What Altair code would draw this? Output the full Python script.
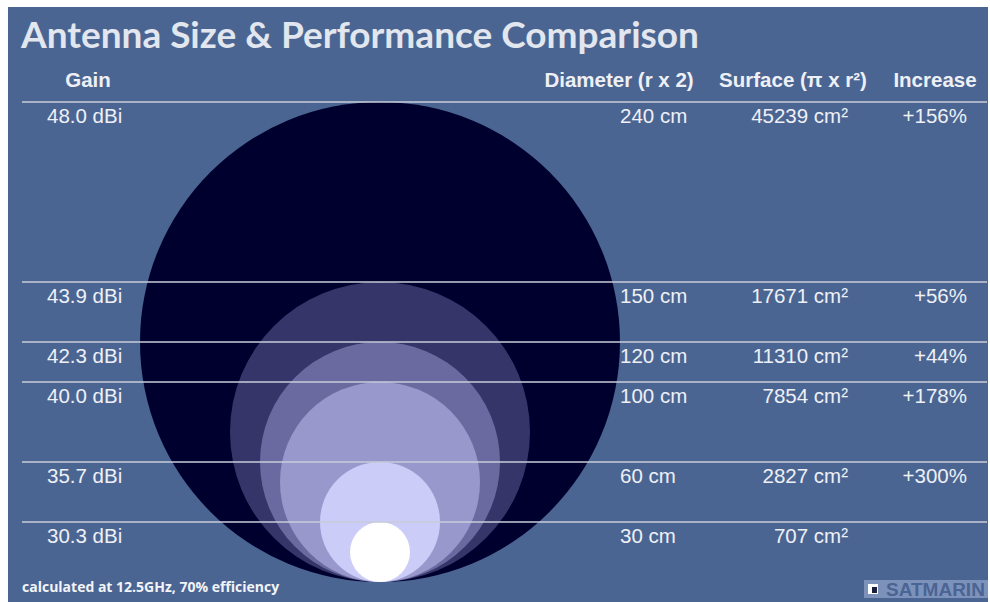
import altair as alt
import pandas as pd

# Dish sizes and derived figures
gain = ["48.0 dBi", "43.9 dBi", "42.3 dBi", "40.0 dBi", "35.7 dBi", "30.3 dBi"]
diameter_cm = [240, 150, 120, 100, 60, 30]
surface_cm2 = [45239, 17671, 11310, 7854, 2827, 707]
increase = ["+156%", "+56%", "+44%", "+178%", "+300%", ""]
fills = ["#00002e", "#35356a", "#6a6aa0", "#9898cc", "#ccccf8", "#ffffff"]
headers = ["Gain", "Diameter (r x 2)", "Surface (π x r²)", "Increase"]

W, H = 990, 602
PANEL = "#4b6592"
TXT = "#eef0f6"

df = pd.DataFrame({
    "gain": gain,
    "diameter": diameter_cm,
    "radius": [d / 2 for d in diameter_cm],
    "surface": surface_cm2,
    "increase": increase,
    "fill": fills,
    "cx": [0] * len(gain),
})
df["diam_label"] = df["diameter"].astype(str) + " cm"
df["surf_label"] = df["surface"].astype(str) + " cm²"

# shared cm scales: 2 px per cm, dish bottoms resting on y = 0
xs = alt.Scale(domain=[-190, 305], range=[0, W], nice=False, zero=False)
ys = alt.Scale(domain=[-10, 291], range=[H, 0], nice=False, zero=False)

one = alt.Data(values=[{"k": 1}])

panel = alt.Chart(one).mark_rect(fill=PANEL).encode(
    x=alt.value(8), x2=alt.value(988), y=alt.value(7), y2=alt.value(H)
)

# Vega draws a circle symbol with side sqrt(size), so size = (diameter in px)^2
dishes = alt.Chart(df).mark_circle(opacity=1).encode(
    x=alt.X("cx:Q", scale=xs, axis=None),
    y=alt.Y("radius:Q", scale=ys, axis=None),
    size=alt.Size("diameter:Q",
                  scale=alt.Scale(type="pow", exponent=2, domain=[0, 240], range=[0, 480 ** 2]),
                  legend=None),
    color=alt.Color("fill:N", scale=None),
    order=alt.Order("diameter:Q", sort="descending"),
)

rules = alt.Chart(df).mark_rule(color="#c9ccd8", strokeWidth=1.5).encode(
    x=alt.value(22), x2=alt.value(987),
    y=alt.Y("diameter:Q", scale=ys, axis=None),
)

def column(field, xpx, align):
    return alt.Chart(df).mark_text(
        font="Liberation Sans", fontSize=20.5, color=TXT, align=align,
        baseline="middle", dy=15,
    ).encode(
        x=alt.value(xpx),
        y=alt.Y("diameter:Q", scale=ys, axis=None),
        text=f"{field}:N",
    )

cols = [
    column("gain", 47, "left"),
    column("diam_label", 620, "left"),
    column("surf_label", 848, "right"),
    column("increase", 967, "right"),
]

def header(text, xpx):
    return alt.Chart(one).mark_text(
        text=text, font="Liberation Sans", fontSize=20.5, fontWeight="bold",
        color=TXT, align="center", baseline="middle",
    ).encode(x=alt.value(xpx), y=alt.value(81))

heads = [header(t, p) for t, p in zip(headers, [88, 619, 793, 935])]

title = alt.Chart(one).mark_text(
    text="Antenna Size & Performance Comparison", font="Lato", fontSize=37,
    fontWeight="bold", color="#e2e6ee", align="left", baseline="middle",
).encode(x=alt.value(21), y=alt.value(37))

note = alt.Chart(one).mark_text(
    text="calculated at 12.5GHz, 70% efficiency", font="Open Sans", fontSize=14,
    fontWeight="bold", color="#f2f4f8", align="left", baseline="middle",
).encode(x=alt.value(22), y=alt.value(588))

logo_box = alt.Chart(one).mark_rect(fill="#7d92ba").encode(
    x=alt.value(864), x2=alt.value(988), y=alt.value(580), y2=alt.value(598)
)
logo_icon = alt.Chart(one).mark_rect(fill="#ffffff").encode(
    x=alt.value(868), x2=alt.value(878), y=alt.value(584), y2=alt.value(594)
)
logo_dot = alt.Chart(one).mark_rect(fill="#1a1f3a").encode(
    x=alt.value(872), x2=alt.value(877), y=alt.value(587), y2=alt.value(593)
)
logo_text = alt.Chart(one).mark_text(
    text="SATMARIN", font="Liberation Sans", fontSize=19, fontWeight="bold",
    color="#4a6494", align="left", baseline="middle",
).encode(x=alt.value(886), y=alt.value(590))
edge = alt.Chart(one).mark_rect(fill="white").encode(
    x=alt.value(988), x2=alt.value(W), y=alt.value(0), y2=alt.value(H)
)

chart = alt.layer(
    panel, dishes, rules, *cols, *heads, title, note,
    logo_box, logo_icon, logo_dot, logo_text, edge
).properties(
    width=W, height=H, padding=0, autosize=alt.AutoSizeParams(type="none"),
    background="white",
).configure_view(stroke=None)

chart.save("out.html", embed_options={"renderer": "svg", "actions": False})
